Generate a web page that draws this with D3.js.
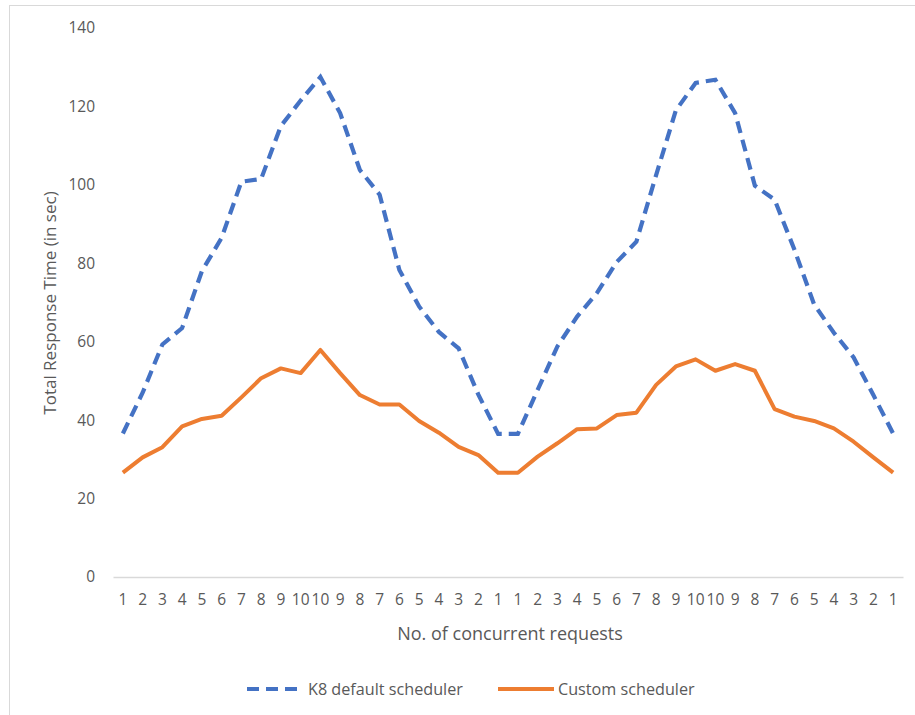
<!DOCTYPE html>
<html><head><meta charset="utf-8">
<script src="https://cdn.jsdelivr.net/npm/d3@7"></script>
<style>body{margin:0;background:#fff}svg{display:block}</style>
</head><body>
<svg id="chart" width="915" height="715"></svg>
<script>
const categories = ["1","2","3","4","5","6","7","8","9","10","10","9","8","7","6","5","4","3","2","1",
                    "1","2","3","4","5","6","7","8","9","10","10","9","8","7","6","5","4","3","2","1"];
const k8Default = [36.6,47,59.3,63.5,78,86.5,100.8,101.5,115,121.5,127.5,118.3,103.8,97.5,78.3,69,62.5,58.3,46.5,36.5,
                   36.5,47.7,58.8,66.4,72.4,80.3,85.5,102.5,119,126,126.8,118.3,99.8,96.2,83.5,69.5,62.3,56,46.4,36.6];
const custom = [26.6,30.5,33.1,38.4,40.3,41.1,45.8,50.7,53.2,52.0,57.9,52.0,46.4,44.0,44.0,39.8,36.8,33.2,31.1,26.6,
                26.6,30.7,34.1,37.7,37.9,41.3,41.9,49.0,53.7,55.5,52.6,54.3,52.6,42.8,40.9,39.8,37.9,34.5,30.5,26.6];
const yTicks = [0,20,40,60,80,100,120,140];
const seriesNames = ["K8 default scheduler","Custom scheduler"];

(function(){
const svg = d3.select("#chart");
const font = "'Open Sans', sans-serif";
const textColor = "#595959";

svg.append("rect").attr("x",9.5).attr("y",5.5).attr("width",930).attr("height",730)
  .attr("fill","none").attr("stroke","#d9d9d9");

const mLeft = 113, mRight = 903, mTop = 28, mBottom = 577;
const x = d3.scaleBand().domain(d3.range(categories.length)).range([mLeft,mRight]);
const y = d3.scaleLinear().domain([0,140]).range([mBottom,mTop]);

const yAxis = svg.append("g").attr("transform",`translate(${mLeft},0)`)
  .call(d3.axisLeft(y).tickValues(yTicks).tickSize(0).tickPadding(18));
yAxis.select(".domain").remove();
yAxis.selectAll("text").attr("font-family",font).attr("font-size",15.5).attr("fill",textColor);

const xAxis = svg.append("g").attr("transform",`translate(0,${mBottom})`)
  .call(d3.axisBottom(x).tickFormat(i=>categories[i]).tickSize(0).tickPadding(17));
xAxis.select(".domain").attr("stroke","#d9d9d9").attr("stroke-width",1.3);
xAxis.selectAll("text").attr("font-family",font).attr("font-size",15.5).attr("fill",textColor);

svg.append("text").attr("x",(mLeft+mRight)/2 + 2).attr("y",640).attr("text-anchor","middle")
  .attr("font-family",font).attr("font-size",18).attr("fill",textColor).text("No. of concurrent requests");
svg.append("text").attr("transform","translate(56,303) rotate(-90)").attr("text-anchor","middle")
  .attr("font-family",font).attr("font-size",17).attr("fill",textColor).text("Total Response Time (in sec)");

const cx = i => x(i) + x.bandwidth()/2;
const line = d3.line().x((d,i)=>cx(i)).y(d=>y(d));

svg.append("path").datum(k8Default).attr("d",line).attr("fill","none")
  .attr("stroke","#4472c4").attr("stroke-width",4.2).attr("stroke-dasharray","12,7");
svg.append("path").datum(custom).attr("d",line).attr("fill","none")
  .attr("stroke","#ed7d31").attr("stroke-width",4).attr("stroke-linejoin","round");

const lg = svg.append("g");
lg.append("line").attr("x1",247).attr("x2",297).attr("y1",689).attr("y2",689)
  .attr("stroke","#4472c4").attr("stroke-width",4.2).attr("stroke-dasharray","12,7");
lg.append("text").attr("x",308).attr("y",695).attr("font-family",font).attr("font-size",16.2)
  .attr("fill",textColor).text(seriesNames[0]);
lg.append("line").attr("x1",498).attr("x2",554).attr("y1",689).attr("y2",689)
  .attr("stroke","#ed7d31").attr("stroke-width",4);
lg.append("text").attr("x",558).attr("y",695).attr("font-family",font).attr("font-size",16.2)
  .attr("fill",textColor).text(seriesNames[1]);
})();
</script>
</body></html>
